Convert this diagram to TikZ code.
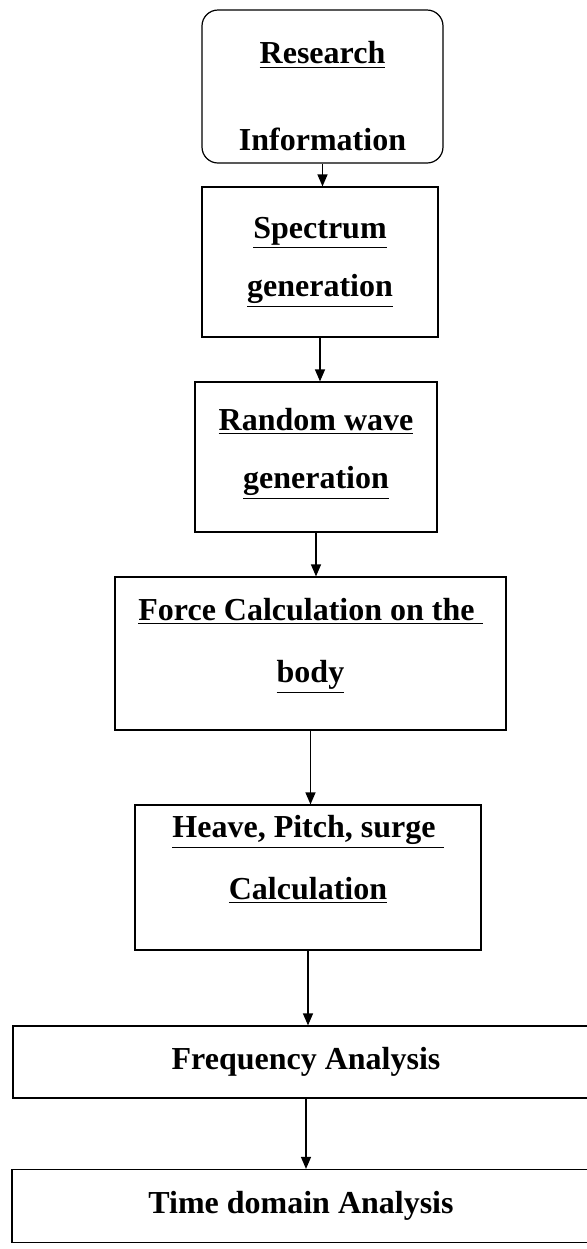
\documentclass[tikz,border=0pt]{standalone}
\usepackage{fontspec}
\setmainfont{Liberation Serif}
\usetikzlibrary{arrows.meta}

\begin{document}
\begin{tikzpicture}[
  x=0.5pt, y=-0.5pt,
  font=\fontsize{16}{19}\selectfont\bfseries,
  box/.style={draw, line width=0.6pt, align=center, inner sep=0pt},
  arr/.style={-{Triangle[length=6pt, width=5pt]}, line width=0.6pt}
]
\useasboundingbox[fill=white] (0,0) rectangle (586,1249);
\node[box, rounded corners=8pt, minimum width=120.5pt, minimum height=76.5pt] (res) at (322.5,86.5) {\mbox{}\\[2pt]\underline{Research}\\[24.5pt] Information};
\node[box, minimum width=118pt, minimum height=75pt] (spec) at (320,262) {\underline{Spectrum}\\[10pt] \underline{generation}};
\node[box, minimum width=121pt, minimum height=75pt] (wave) at (316,457) {\underline{Random wave}\\[10pt] \underline{generation}\\[-10pt]\mbox{}};
\node[box, minimum width=195.5pt, minimum height=76.5pt] (force) at (310.5,653.5) {\underline{Force Calculation on the\ }\\[12pt] \underline{body}\\[-6pt]\mbox{}};
\node[box, minimum width=173pt, minimum height=72.5pt] (hps) at (308,877.5) {\underline{Heave, Pitch, surge\ }\\[12pt] \underline{Calculation}\\[1pt]\mbox{}};
\node[box, minimum width=293pt, minimum height=36pt] (freq) at (306,1062) {Frequency Analysis};
\node[box, minimum width=289pt, minimum height=36.5pt] (time) at (301,1206) {Time domain Analysis};
\draw[arr] (res) -- (res |- spec.north);
\draw[arr] (spec) -- (spec |- wave.north);
\draw[arr] (wave) -- (wave |- force.north);
\draw[arr] (force) -- (force |- hps.north);
\draw[arr] (hps) -- (hps |- freq.north);
\draw[arr] (freq) -- (freq |- time.north);
\end{tikzpicture}
\end{document}
